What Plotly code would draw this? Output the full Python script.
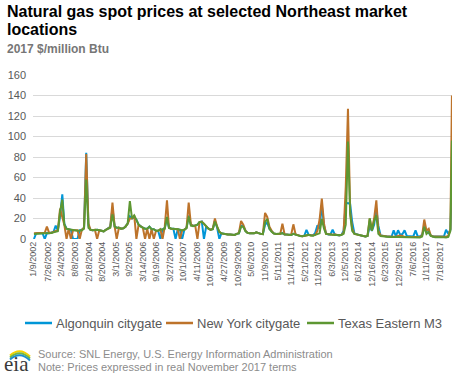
import plotly.graph_objects as go

# ---- data (2017 $/million Btu), monthly readings + final early-Jan-2018 reading ----
years = list(range(2002, 2018))
final_date = "2018-01-05"

algonquin = [
    0, 5.5, 5.8, 6.0, 5.6, 0, 5.8, 5.6, 6.0, 6.8, 13.0, 8.5,        # 2002
    22, 43.6, 15, 10, 9.5, 9, 0, 0, 0, 8.5, 9, 11,                  # 2003
    84, 13, 9, 8.5, 9, 9, 8.5, 8.0, 7.5, 9, 10.5, 12,               # 2004
    30, 12, 11, 11, 10, 10.5, 12, 15, 22, 20, 21, 19,               # 2005
    14, 12, 11, 10, 10, 12, 9.5, 9.5, 8, 8, 0, 9.5,                 # 2006
    11, 20, 11, 10, 10, 0, 9.5, 9, 0, 9, 11, 23,                    # 2007
    14, 13, 13, 14, 16.5, 17, 0, 12, 10, 9, 9.5, 18,                # 2008
    11, 0, 5.5, 5, 4.5, 4.5, 4.5, 4.0, 4.0, 5.0, 5.5, 13,           # 2009
    12.5, 8, 6, 5.5, 5.2, 5.5, 6.5, 5.5, 5.0, 4.8, 14, 16,          # 2010
    10, 7.5, 5.5, 5, 5, 5, 6, 4.5, 4.5, 4, 4, 5,                    # 2011
    4.5, 3.8, 2.8, 2.6, 3, 9, 4.2, 3.5, 3.5, 6, 13.4, 10,           # 2012
    33, 13, 5.5, 4.5, 4.5, 9, 4.5, 3.8, 3.5, 4, 8, 34.5,            # 2013
    35, 34, 16.6, 5.5, 4.5, 4, 3.5, 3, 2.5, 3, 12.4, 8,             # 2014
    14, 30, 13, 3.5, 3, 2.5, 2.5, 2.5, 2.2, 8.5, 2.5, 8.5,          # 2015
    4, 5, 8.5, 3, 3, 2.8, 2.5, 8.5, 2.5, 2.5, 4, 12,                # 2016
    7, 6, 3.5, 2.5, 2.5, 2.5, 2.5, 2.5, 2.5, 9, 5, 9,               # 2017
    54,                                                             # Jan 2018
]

new_york = [
    5.5, 5.5, 6.0, 6.0, 5.8, 6.0, 12.0, 6.0, 6.2, 7.0, 7.5, 8.5,    # 2002
    29.6, 20, 14, 0, 10, 0, 8.5, 8.5, 8.5, 0, 9, 11,                # 2003
    83, 15, 9, 8.5, 9, 0, 8.5, 8.0, 7.5, 9, 10, 11.5,               # 2004
    35.5, 12, 0, 11, 10, 10.5, 12, 15, 20, 20, 23, 0,               # 2005
    14, 12, 11, 0, 10, 0, 9.5, 0, 8, 8, 9.5, 0,                     # 2006
    12, 37.7, 11, 10, 10, 10, 9.5, 0, 8.5, 9, 11, 35.5,             # 2007
    14, 13, 13, 0, 16.5, 17, 15, 12, 10, 9, 10, 20,                 # 2008
    12, 7, 5.5, 5, 4.5, 4.5, 4.5, 4.0, 4.0, 5.0, 6.0, 17.6,         # 2009
    14, 8, 6, 5.5, 5.2, 5.5, 6.5, 5.5, 5.0, 4.8, 25.4, 21.5,        # 2010
    12, 8, 5.5, 5, 5, 5, 15, 4.5, 4.5, 4, 4.5, 14.3,                # 2011
    4.5, 3.8, 2.8, 2.6, 3, 3.5, 4.2, 3.5, 3.5, 4, 8, 19,            # 2012
    39.4, 15, 5, 4.5, 4.5, 4.2, 4.5, 3.8, 3.5, 4, 6, 51,            # 2013
    127, 26, 10, 5, 4.5, 4, 3.5, 3, 2.5, 3, 20, 9,                  # 2014
    20, 37.7, 8, 3.5, 3, 2.5, 2.5, 2.5, 2.2, 2.2, 2.5, 3,           # 2015
    3.5, 3, 2, 2, 2, 2.2, 2.5, 2.5, 2, 2, 3.5, 19,                  # 2016
    8, 10, 3.5, 2.5, 2.5, 2.5, 2.5, 2.5, 2.5, 2.2, 3, 10,           # 2017
    140,                                                            # Jan 2018
]

texas_eastern_m3 = [
    5.0, 5.2, 5.5, 5.8, 5.5, 5.5, 5.5, 5.5, 5.8, 6.5, 7.0, 7.5,     # 2002
    27, 38.4, 14, 10, 9.5, 9.0, 8.5, 8.0, 8.0, 8.0, 8.5, 10,        # 2003
    58, 11, 9, 8.5, 9, 9, 8.5, 8.0, 7.5, 9, 10, 11,                 # 2004
    24, 12, 11, 11, 10, 10.5, 12, 15, 37, 20, 23, 18,               # 2005
    14, 12, 11, 10, 10, 12, 9.5, 9.5, 8, 8, 9.5, 9,                 # 2006
    10, 21.5, 11, 10, 10, 10, 9.5, 9, 8.5, 9, 10.5, 22,             # 2007
    13, 12.5, 13, 14, 16.5, 16.6, 15, 12, 10, 9, 9.5, 17,           # 2008
    11, 7, 5.5, 5, 4.5, 4.5, 4.5, 4.0, 4.0, 5.0, 5.5, 12,           # 2009
    12, 7.5, 6, 5.5, 5.2, 5.5, 6.5, 5.5, 5.0, 4.8, 16.6, 19.5,      # 2010
    10, 7, 5.5, 5, 5, 5, 5.5, 4.5, 4.5, 4, 4, 5,                    # 2011
    4, 3.5, 2.8, 2.6, 3, 3.5, 4, 3.5, 3.2, 4, 5, 5.5,               # 2012
    19.5, 10, 5, 4.5, 4.5, 4.2, 4.0, 3.8, 3.5, 4, 5, 14,            # 2013
    95, 24, 8, 5, 4.5, 4, 3.5, 3, 2.5, 3, 20, 8,                    # 2014
    18, 23, 5, 3, 2.5, 2.2, 2.2, 2, 1.8, 1.8, 2, 2,                 # 2015
    2, 2, 1.5, 1.5, 1.5, 1.8, 2, 2, 1.5, 1.5, 2.5, 12,              # 2016
    5, 7, 3, 2, 1.8, 1.8, 2, 2, 1.8, 1.5, 2, 8,                     # 2017
    96,                                                             # Jan 2018
]

tick_labels = [
    "1/9/2002", "7/26/2002", "2/4/2003", "8/8/2003", "2/18/2004", "8/20/2004",
    "3/1/2005", "9/2/2005", "3/14/2006", "9/19/2006", "3/27/2007", "10/1/2007",
    "4/11/2008", "10/15/2008", "4/27/2009", "10/29/2009", "5/6/2010", "11/9/2010",
    "5/11/2011", "11/14/2011", "5/21/2012", "11/23/2012", "6/3/2013", "12/5/2013",
    "6/12/2014", "12/16/2014", "6/23/2015", "12/29/2015", "7/6/2016", "1/11/2017",
    "7/18/2017",
]

series_names = ["Algonquin citygate", "New York citygate", "Texas Eastern M3"]
colors = ["#0096d7", "#bd732a", "#5d9732"]

# ---- build x values ----
dates = [f"{y}-{m:02d}-15" for y in years for m in range(1, 13)] + [final_date]


def to_iso(lbl):
    m, d, y = lbl.split("/")
    return f"{y}-{int(m):02d}-{int(d):02d}"


tick_vals = [to_iso(t) for t in tick_labels]

fig = go.Figure()
for name, vals, col in zip(series_names, [algonquin, new_york, texas_eastern_m3], colors):
    fig.add_trace(go.Scatter(x=dates, y=vals, name=name, mode="lines",
                             line=dict(color=col, width=2), showlegend=False))

# plot area geometry (pixels)
L, R, T, B = 33, 16, 75, 139
W = 468 - L - R
H = 378 - T - B


def px(x):
    return (x - L) / W


def py(y):
    return (T + H - y) / H


grey = "#595959"
fig.update_layout(
    width=468, height=378,
    margin=dict(l=L, r=R, t=T, b=B, pad=0, autoexpand=False),
    paper_bgcolor="white", plot_bgcolor="white",
    font=dict(family="Liberation Sans, Arial, sans-serif", color=grey),
    showlegend=False,
    xaxis=dict(type="date", range=["2002-01-02", "2018-01-06"], tickmode="array",
               tickvals=tick_vals, ticktext=tick_labels, tickangle=-90,
               tickfont=dict(size=9, color=grey), showgrid=False, zeroline=False,
               showline=False, ticks="", automargin=False),
    yaxis=dict(range=[0, 160], tickmode="linear", tick0=0, dtick=20,
               tickfont=dict(size=11, color=grey), gridcolor="#d9d9d9", gridwidth=1,
               zeroline=False, showline=False, ticks="", ticklabelstandoff=6,
               automargin=False),
)

ann = [
    dict(text="<b>Natural gas spot prices at selected Northeast market</b>", x=px(5), y=py(11),
         font=dict(size=16, color="black")),
    dict(text="<b>locations</b>", x=px(5), y=py(29.5), font=dict(size=16, color="black")),
    dict(text="<b>2017 $/million Btu</b>", x=px(5), y=py(49), font=dict(size=12, color="#767676")),
    dict(text="Source: SNL Energy, U.S. Energy Information Administration", x=px(36), y=py(354),
         font=dict(size=11, color="#8c8c8c")),
    dict(text="Note: Prices expressed in real November 2017 terms", x=px(36), y=py(367),
         font=dict(size=11, color="#8c8c8c")),
    dict(text="eia", x=px(2), y=py(364), font=dict(size=21, color="#3a3a3a",
                                                  family="Liberation Serif, DejaVu Serif, serif")),
]

# manual legend (line sample + real text)
legend_x = [25, 166, 307]
legend_y = 323
for name, col, lx in zip(series_names, colors, legend_x):
    fig.add_shape(type="line", xref="paper", yref="paper",
                  x0=px(lx), x1=px(lx + 27), y0=py(legend_y), y1=py(legend_y),
                  line=dict(color=col, width=2.5))
    ann.append(dict(text=name, x=px(lx + 29), y=py(legend_y), font=dict(size=13, color=grey)))

for a in ann:
    a.update(xref="paper", yref="paper", xanchor="left", yanchor="middle", showarrow=False)
    fig.add_annotation(**a)

# EIA logo swooshes
swooshes = [("#f5d300", 355.5), ("#74b843", 357.5), ("#1a8fd0", 359.5)]
for col, yb in swooshes:
    fig.add_shape(type="path", xref="paper", yref="paper",
                  path=f"M {px(10)},{py(yb)} Q {px(20)},{py(yb-9)} {px(30)},{py(yb+1)}",
                  line=dict(color=col, width=2))

fig.write_html("out.html", config={"displayModeBar": False},
               post_script="document.body.style.margin='0';document.body.style.overflow='hidden';")
